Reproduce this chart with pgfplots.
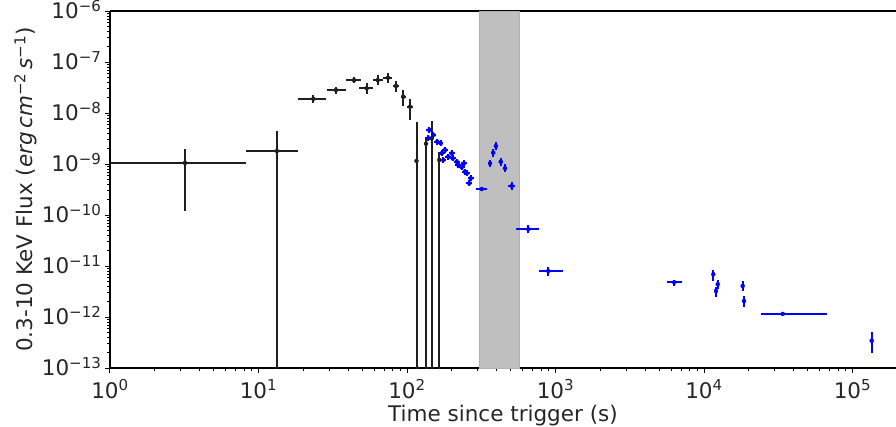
\documentclass[border=0pt]{standalone}
\usepackage{pgfplots}
\pgfplotsset{compat=1.18}
\usepackage{pgfplotstable}
\usepackage{fontspec}
\setmainfont{DejaVu Sans}
\newcommand{\fs}{\fontsize{21.5bp}{25bp}\selectfont}
\definecolor{bandgray}{HTML}{BFBFBF}
\definecolor{bandedge}{HTML}{B0B0B0}

% black points: t, t_low, t_high, flux, flux_low, flux_high
\pgfplotstableread{
t tl th f fl fh
3.2 1.0 8.2 1.05e-9 1.2e-10 1.97e-9
13.3 8.2 18.4 1.8e-9 1e-15 4.5e-9
23.4 18.5 28.5 1.9e-8 1.6e-8 2.3e-8
33.2 28.8 38.6 2.82e-8 2.4e-8 3.3e-8
44 39 49 4.4e-8 3.8e-8 5.0e-8
53.5 47.7 59.3 3.05e-8 2.36e-8 3.82e-8
63.5 58.7 69.2 4.4e-8 3.54e-8 5.56e-8
74.5 69.2 79.6 4.92e-8 3.93e-8 6.0e-8
84.3 80.2 88.7 3.38e-8 2.62e-8 4.3e-8
94.4 91.1 98.5 2.09e-8 1.37e-8 2.82e-8
104.8 100 109.7 1.33e-8 7.3e-9 1.9e-8
115.9 115.5 116.3 1.15e-9 1e-15 6.7e-9
134.3 134.0 134.6 2.5e-9 1e-15 3.43e-9
146.6 146.2 147.0 3.19e-9 1e-15 7.06e-9
165 164.6 165.4 1.2e-9 1e-15 1.72e-9
}\blackdata

% blue points
\pgfplotstableread{
t tl th f fl fh
141.3 135 148 4.65e-9 4.05e-9 5.35e-9
139.1 133 146 3.19e-9 2.78e-9 3.67e-9
150.3 144 157 3.71e-9 3.23e-9 4.27e-9
160 153 167 2.74e-9 2.38e-9 3.15e-9
168.6 161 176 2.55e-9 2.22e-9 2.93e-9
171.3 164 179 1.62e-9 1.41e-9 1.86e-9
180.3 172 189 1.88e-9 1.64e-9 2.16e-9
175.6 168 184 1.20e-9 1.04e-9 1.38e-9
189.7 181 199 1.39e-9 1.21e-9 1.60e-9
200 191 209 1.62e-9 1.41e-9 1.86e-9
203 194 213 1.29e-9 1.12e-9 1.48e-9
216 206 226 1.11e-9 0.97e-9 1.28e-9
221.6 212 232 9.55e-10 8.3e-10 1.10e-9
233.5 223 244 8.6e-10 7.5e-10 9.9e-10
242 231 253 1.03e-9 8.96e-10 1.18e-9
245.8 235 257 7.06e-10 6.14e-10 8.12e-10
252.4 241 264 6.58e-10 5.72e-10 7.57e-10
268.5 256 281 5.25e-10 4.57e-10 6.04e-10
262.8 251 275 4.19e-10 3.65e-10 4.82e-10
318.5 291.5 344 3.24e-10 2.9e-10 3.6e-10
362 350 374 1.03e-9 0.87e-9 1.2e-9
381 370 393 1.67e-9 1.38e-9 2.0e-9
397 385 410 2.25e-9 1.88e-9 2.7e-9
427.6 414 442 1.11e-9 0.93e-9 1.32e-9
457 443 472 8.24e-10 6.9e-10 9.8e-10
507 481 534 3.71e-10 3.1e-10 4.4e-10
656 540 774 5.25e-11 4.4e-11 6.3e-11
894 778 1118 7.98e-12 6.37e-12 9.6e-12
6310 5660 7080 4.79e-12 4.06e-12 5.31e-12
11550 11400 11700 6.87e-12 5.08e-12 8.36e-12
12370 12200 12540 4.38e-12 3.6e-12 5.3e-12
12050 11900 12200 3.24e-12 2.43e-12 3.93e-12
18220 18000 18440 4.06e-12 3.2e-12 5.0e-12
18590 18350 18830 2.06e-12 1.55e-12 2.58e-12
33900 24200 67000 1.15e-12 1.08e-12 1.22e-12
134600 133000 136200 3.43e-13 2.0e-13 5.15e-13
}\bluedata

\begin{document}
\begin{tikzpicture}
\useasboundingbox (-110bp,-59bp) rectangle (786bp,368bp);
\begin{axis}[
  at={(0,0)}, anchor=south west,
  scale only axis, width=786bp, height=357bp,
  xmode=log, ymode=log,
  xmin=1, xmax=1.963e5, ymin=1e-13, ymax=1e-6,
  separate axis lines,
  axis x line*=box, axis y line*=left,
  axis line style={black, line width=1.1bp},
  xtick pos=bottom, ytick pos=left,
  tick align=outside,
  major tick length=5bp, minor tick length=3bp,
  every major tick/.append style={line width=1bp, black},
  every minor tick/.append style={line width=0.8bp, black},
  xtick={1,10,100,1000,10000,100000},
  xticklabels={10\textsuperscript{0},10\textsuperscript{1},10\textsuperscript{2},10\textsuperscript{3},10\textsuperscript{4},10\textsuperscript{5}},
  minor xtick={2,3,4,5,6,7,8,9,20,30,40,50,60,70,80,90,200,300,400,500,600,700,800,900,2000,3000,4000,5000,6000,7000,8000,9000,20000,30000,40000,50000,60000,70000,80000,90000},
  ytick={1e-13,1e-12,1e-11,1e-10,1e-9,1e-8,1e-7,1e-6},
  yticklabels={10\textsuperscript{−13},10\textsuperscript{−12},10\textsuperscript{−11},10\textsuperscript{−10},10\textsuperscript{−9},10\textsuperscript{−8},10\textsuperscript{−7},10\textsuperscript{−6}},
  minor ytick={2e-13,3e-13,4e-13,5e-13,6e-13,7e-13,8e-13,9e-13,2e-12,3e-12,4e-12,5e-12,6e-12,7e-12,8e-12,9e-12,2e-11,3e-11,4e-11,5e-11,6e-11,7e-11,8e-11,9e-11,2e-10,3e-10,4e-10,5e-10,6e-10,7e-10,8e-10,9e-10,2e-9,3e-9,4e-9,5e-9,6e-9,7e-9,8e-9,9e-9,2e-8,3e-8,4e-8,5e-8,6e-8,7e-8,8e-8,9e-8,2e-7,3e-7,4e-7,5e-7,6e-7,7e-7,8e-7,9e-7},
  every tick label/.append style={font=\fs, text=black!85},
  yticklabel style={anchor=base east, yshift=-7.6bp},
  xticklabel style={anchor=base, yshift=-25bp, inner sep=0pt},
  xlabel={Time since trigger (s)},
  ylabel={0.3-10 KeV Flux (\textit{erg}\,\textit{cm}\textsuperscript{−2}\,\textit{s}\textsuperscript{−1})},
  xlabel style={font=\fs, text=black!85, at={(axis description cs:0.5,0)}, yshift=-53bp, anchor=base, inner sep=0pt},
  ylabel style={font=\fs, text=black!85, at={(axis description cs:-0.098,0.5)}, anchor=base},
  clip=true,
]
\addplot[fill=bandgray, draw=bandedge, line width=0.8bp, forget plot] coordinates {(306,1e-13) (568,1e-13) (568,1e-6) (306,1e-6)} -- cycle;

\addplot[only marks, mark=*, mark size=2bp, black!88,
  error bars/.cd, x dir=both, x explicit, y dir=both, y explicit, error mark=none,
  error bar style={line width=2bp, black!88}]
  table[x=t, y=f,
    x error plus expr=\thisrow{th}-\thisrow{t},
    x error minus expr=\thisrow{t}-\thisrow{tl},
    y error plus expr=\thisrow{fh}-\thisrow{f},
    y error minus expr=\thisrow{f}-\thisrow{fl}] {\blackdata};

\addplot[only marks, mark=*, mark size=2bp, blue,
  error bars/.cd, x dir=both, x explicit, y dir=both, y explicit, error mark=none,
  error bar style={line width=2bp, blue}]
  table[x=t, y=f,
    x error plus expr=\thisrow{th}-\thisrow{t},
    x error minus expr=\thisrow{t}-\thisrow{tl},
    y error plus expr=\thisrow{fh}-\thisrow{f},
    y error minus expr=\thisrow{f}-\thisrow{fl}] {\bluedata};
\end{axis}
\end{tikzpicture}
\end{document}
